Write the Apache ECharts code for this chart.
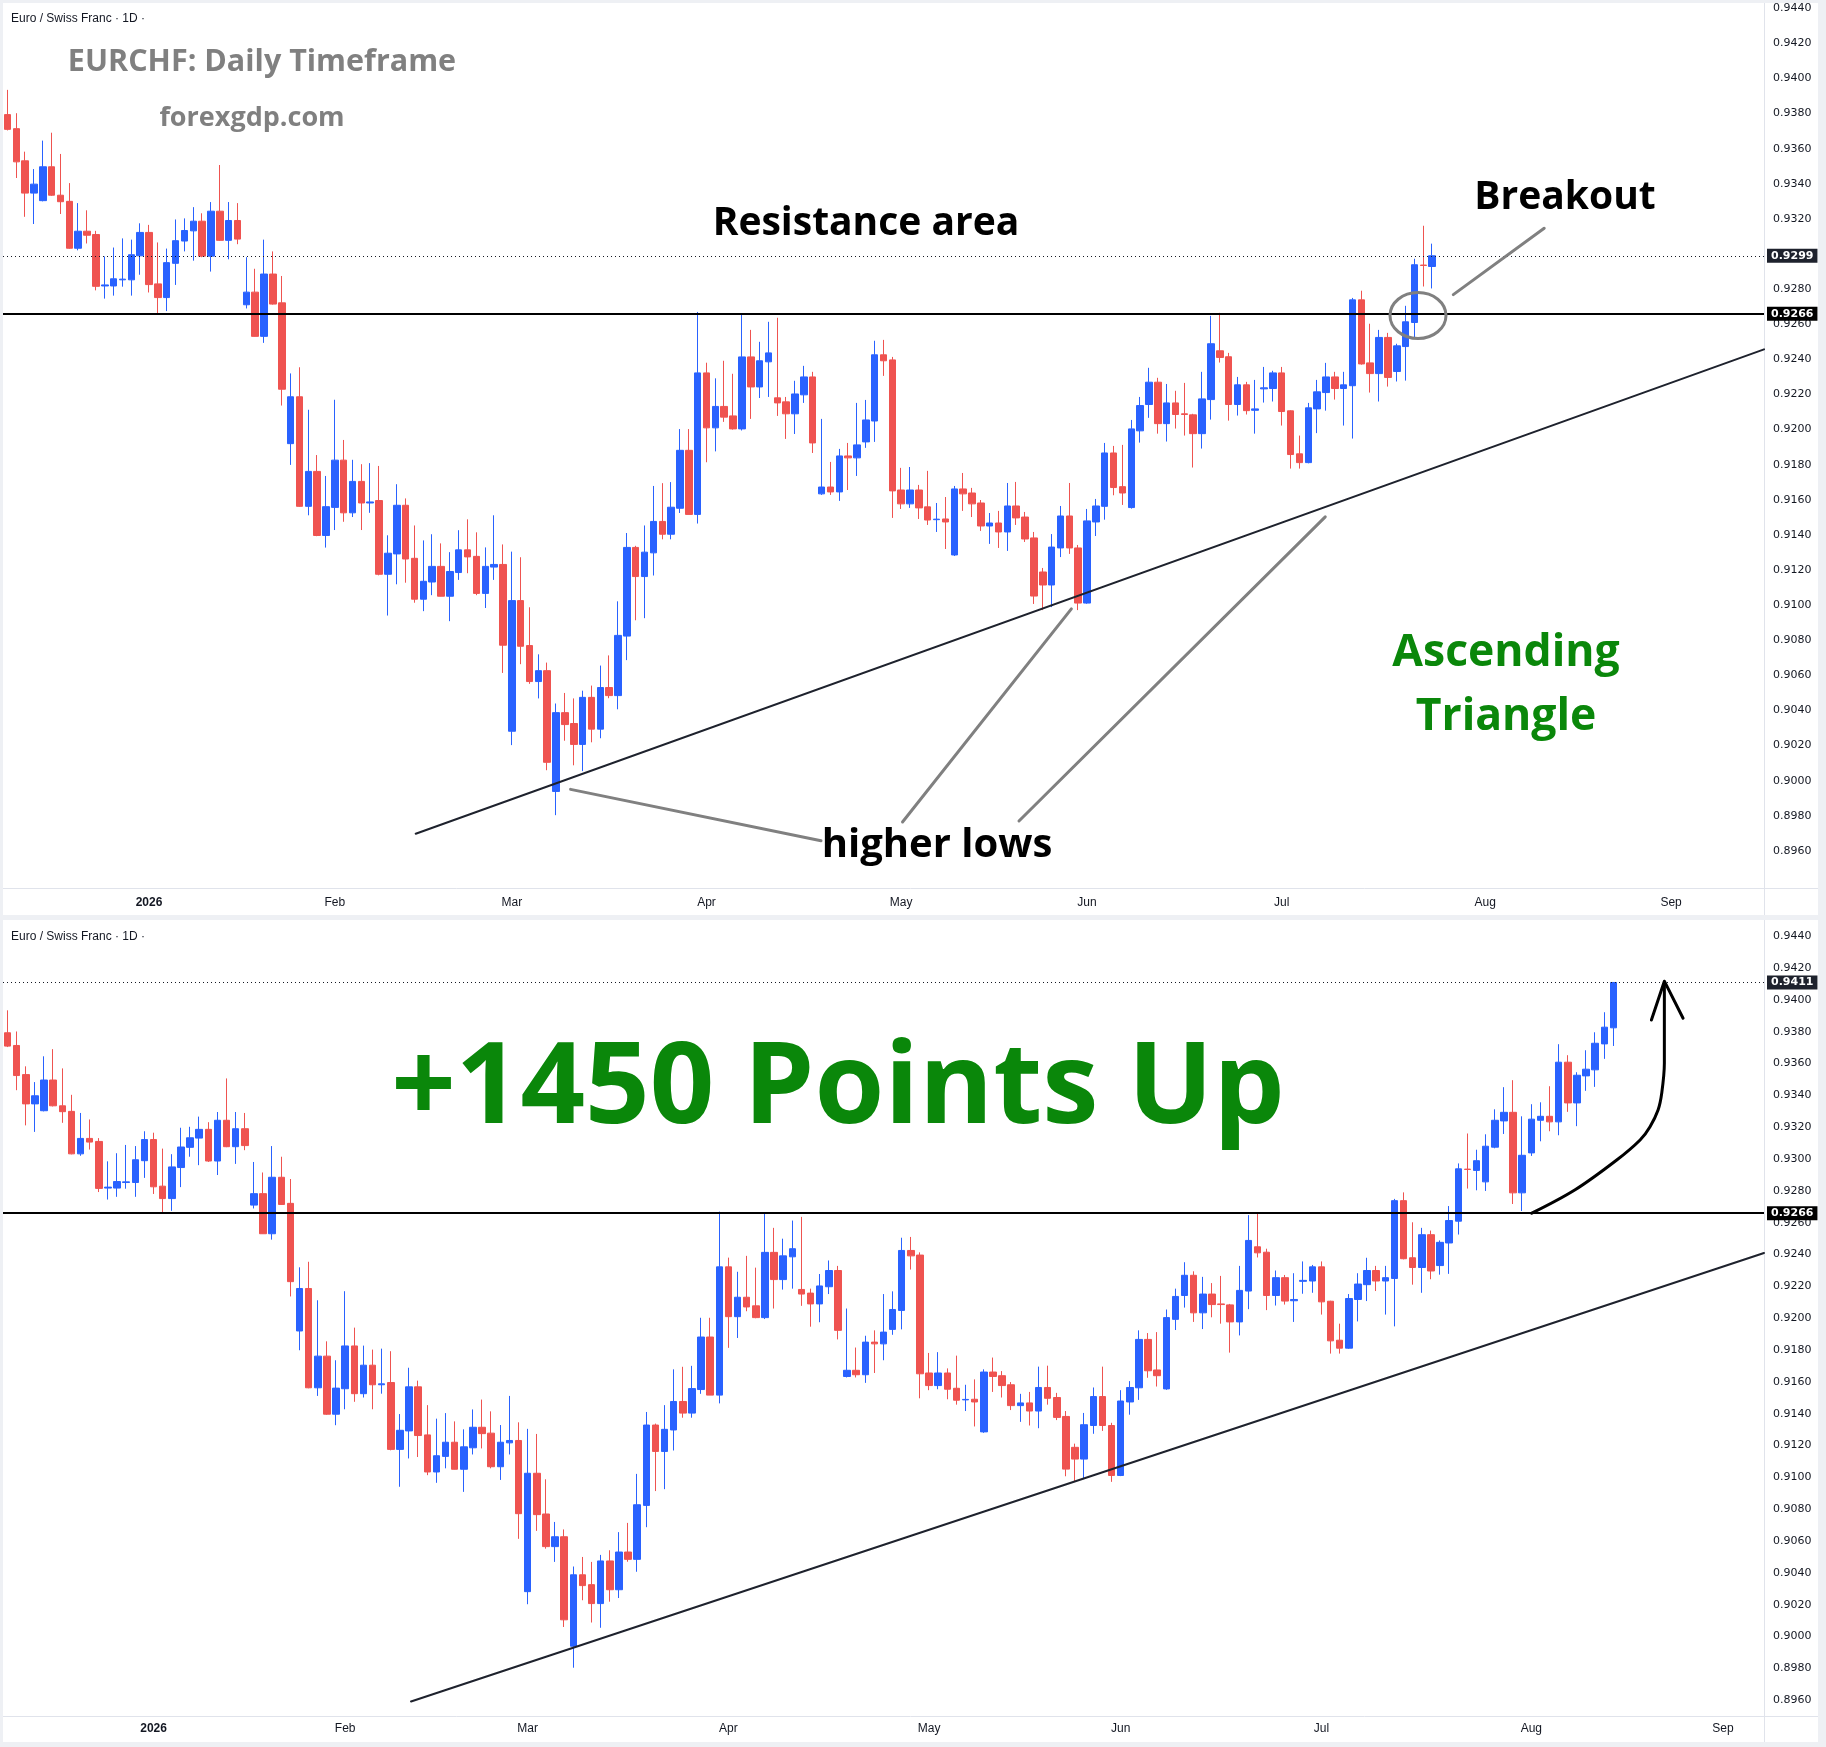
<!DOCTYPE html>
<html><head><meta charset="utf-8">
<script src="https://cdn.jsdelivr.net/npm/echarts@6.0.0/dist/echarts.min.js"></script>
<style>html,body{margin:0;padding:0;background:#fff}#c{width:1826px;height:1747px}</style>
</head><body><div id="c"></div><script>
// ---------- DATA ----------
const START_DATE = '2025-12-09';
const HOLIDAYS = ['2025-12-25', '2026-01-01'];
const TOP_SLOTS = 199;      // visible daily slots, top panel
const BOTTOM_SLOTS = 193;   // visible daily slots, bottom panel
const TOP_BARS = 162;       // candles shown on the top panel
const MONTHS = ['Jan','Feb','Mar','Apr','May','Jun','Jul','Aug','Sep','Oct','Nov','Dec'];
const RESISTANCE = 0.9266;
const LAST_TOP = 0.9299;
const LAST_BOTTOM = 0.9411;

const open = [
.93794,.93714,.93531,.93347,.93304,.93497,.93335,.93300,.93033,.93130,
.93111,.92818,.92818,.92853,.92853,.92990,.93123,.92830,.92752,.92947,
.93074,.93132,.93187,.92988,.93244,.93078,.93191,.92711,.92783,.92531,
.92886,.92722,.91920,.92187,.91563,.91762,.91397,.91557,.91826,.91526,
.91705,.91582,.91596,.91176,.91292,.91569,.91267,.91034,.91132,.91221,
.91051,.91186,.91315,.91278,.91067,.91217,.91232,.90282,.91026,.90770,
.90565,.90627,.89939,.90388,.90326,.90207,.90475,.90294,.90531,.90485,
.90824,.91329,.91163,.91298,.91477,.91404,.91552,.91882,.91517,.92323,
.92010,.92132,.92078,.92004,.92414,.92243,.92386,.92181,.92158,.92090,
.92198,.92300,.91634,.91673,.91645,.91850,.91839,.91930,.92049,.92426,
.92397,.91656,.91577,.91656,.91560,.91487,.91491,.91286,.91662,.91639,
.91582,.91451,.91468,.91417,.91565,.91502,.91383,.91189,.91115,.91326,
.91508,.91326,.91012,.91474,.91563,.91867,.91675,.91556,.91993,.92143,
.92270,.92034,.92152,.92090,.92084,.91977,.92171,.92449,.92415,.92143,
.92255,.92110,.92232,.92234,.92323,.92107,.91862,.91812,.92118,.92211,
.92300,.92234,.92250,.92739,.92380,.92319,.92525,.92331,.92473,.92610,
.92937,.92929,.92857,.93075,.93240,.93294,.92788,.93039,.93244,.93269,
.93234,.93609,.93353,.93523,.93561,.93724,.93825];
const close = [
.93710,.93525,.93347,.93398,.93497,.93335,.93298,.93033,.93130,.93107,
.92816,.92824,.92859,.92857,.92996,.93123,.92826,.92752,.92951,.93076,
.93134,.93187,.92988,.93244,.93078,.93191,.93085,.92783,.92531,.92886,
.92715,.92230,.92187,.91563,.91762,.91397,.91561,.91826,.91526,.91705,
.91582,.91588,.91176,.91296,.91569,.91263,.91034,.91136,.91221,.91051,
.91192,.91315,.91275,.91067,.91221,.91232,.90772,.91026,.90766,.90565,
.90627,.90105,.90388,.90320,.90207,.90475,.90294,.90531,.90485,.90828,
.91329,.91163,.91302,.91477,.91404,.91558,.91882,.91517,.92323,.92010,
.92132,.92071,.92004,.92414,.92243,.92392,.92437,.92152,.92090,.92203,
.92300,.91924,.91673,.91645,.91850,.91839,.91913,.92055,.92426,.92392,
.91651,.91577,.91656,.91554,.91485,.91490,.91474,.91662,.91634,.91577,
.91451,.91468,.91417,.91565,.91497,.91377,.91052,.91115,.91331,.91508,
.91326,.91012,.91480,.91565,.91867,.91670,.91639,.92004,.92137,.92270,
.92034,.92152,.92086,.92086,.91977,.92175,.92489,.92411,.92143,.92255,
.92108,.92118,.92238,.92323,.92103,.91858,.91812,.92124,.92215,.92300,
.92234,.92255,.92739,.92374,.92319,.92525,.92297,.92477,.92614,.92939,
.92935,.92990,.93081,.93244,.93294,.92788,.93024,.93251,.93269,.93234,
.93609,.93353,.93527,.93565,.93728,.93829,.94110];
const high = [
.93935,.93802,.93583,.93484,.93646,.93691,.93570,.93404,.93290,.93249,
.93132,.92986,.93037,.93089,.93082,.93175,.93166,.93066,.93031,.93197,
.93203,.93267,.93232,.93296,.93507,.93296,.93290,.92982,.92916,.93082,
.93015,.92875,.92320,.92355,.92113,.91855,.91736,.92170,.91941,.91828,
.91803,.91809,.91793,.91398,.91689,.91608,.91454,.91369,.91404,.91352,
.91302,.91427,.91489,.91415,.91329,.91512,.91346,.91305,.91273,.90988,
.90720,.90673,.90440,.90500,.90469,.90513,.90542,.90656,.90714,.91022,
.91411,.91338,.91454,.91679,.91695,.91701,.92003,.92003,.92670,.92381,
.92292,.92392,.92318,.92660,.92568,.92500,.92614,.92637,.92186,.92278,
.92363,.92329,.92061,.91816,.91890,.91924,.92152,.92169,.92506,.92511,
.92414,.91782,.91787,.91685,.91765,.91582,.91616,.91679,.91753,.91668,
.91599,.91525,.91537,.91696,.91702,.91531,.91417,.91212,.91405,.91565,
.91696,.91343,.91548,.91605,.91924,.91907,.91913,.92055,.92186,.92352,
.92295,.92260,.92221,.92266,.92090,.92329,.92648,.92665,.92437,.92300,
.92272,.92283,.92357,.92335,.92357,.92110,.91966,.92152,.92283,.92380,
.92329,.92329,.92750,.92791,.92603,.92568,.92551,.92489,.92705,.92973,
.93161,.93059,.93156,.93313,.93452,.93496,.93269,.93345,.93357,.93458,
.93722,.93653,.93546,.93684,.93797,.93923,.94110];
const low = [
.93704,.93433,.93212,.93171,.93300,.93331,.93228,.93030,.93021,.93060,
.92793,.92746,.92763,.92814,.92763,.92882,.92781,.92664,.92675,.92824,
.93015,.92962,.92982,.92900,.93075,.92970,.93056,.92690,.92530,.92494,
.92712,.92137,.91799,.91560,.91512,.91393,.91328,.91428,.91475,.91502,
.91428,.91526,.91170,.90941,.91119,.91128,.91014,.90966,.91057,.91050,
.90909,.91144,.91182,.91057,.90984,.91144,.90614,.90203,.90664,.90552,
.90469,.90060,.89804,.90228,.90088,.90055,.90219,.90242,.90470,.90407,
.90687,.90914,.90926,.91169,.91375,.91375,.91525,.91517,.91465,.91814,
.91876,.92044,.92000,.91995,.92061,.92180,.92186,.92078,.91947,.91975,
.92152,.91867,.91628,.91628,.91594,.91656,.91736,.91896,.91930,.92306,
.91497,.91548,.91554,.91491,.91457,.91417,.91320,.91280,.91537,.91502,
.91423,.91349,.91326,.91309,.91457,.91360,.91007,.90972,.90989,.91274,
.91292,.90972,.91008,.91394,.91487,.91626,.91571,.91550,.91926,.92067,
.91977,.91932,.92006,.91966,.91784,.91892,.92057,.92382,.92051,.92080,
.92086,.91977,.92154,.92160,.92023,.91778,.91778,.91808,.91980,.92108,
.92171,.92023,.91949,.92370,.92211,.92160,.92245,.92274,.92279,.92526,
.92815,.92804,.92800,.93068,.93158,.92718,.92674,.93020,.93112,.93175,
.93150,.93297,.93207,.93429,.93454,.93630,.93711];

// drawing annotations, in data coordinates [bar index, price]
const topTrend = [[46.14, 0.89698], [198.5, 0.92457]];
const lowPointers = [
  [[63.64, 0.89951], [91.94, 0.89658]],
  [[101.15, 0.89765], [120.23, 0.90979]],
  [[114.31, 0.89771], [148.92, 0.91503]]];
const breakoutPointer = [[163.39, 0.92769], [173.66, 0.93147]];
const breakoutCircleCenter = [159.4, 0.9265];
const botTrend = [[44.22, 0.89592], [192.5, 0.9241]];
const arrowCurve = [[167.05,0.9266],[171.8,0.92807],[176.36,0.92994],[178.92,0.9312],[180.01,0.93204],
  [180.89,0.93309],[181.29,0.93414],[181.58,0.93602],[181.58,0.94105]];
const arrowHead = [[180.16,0.93874],[181.58,0.94118],[183.63,0.93885]];

// ---------- BUILD ----------
function tradingDays(start, n, holidays) {
  const out = []; const d = new Date(start + 'T00:00:00Z');
  while (out.length < n) {
    const wd = d.getUTCDay(); const s = d.toISOString().slice(0, 10);
    if (wd !== 0 && wd !== 6 && holidays.indexOf(s) < 0) out.push(s);
    d.setUTCDate(d.getUTCDate() + 1);
  }
  return out;
}
const dates = tradingDays(START_DATE, TOP_SLOTS, HOLIDAYS);
const botDates = dates.slice(0, BOTTOM_SLOTS);
const ohlc = open.map((o, i) => [o, close[i], low[i], high[i]]);
const topData = ohlc.slice(0, TOP_BARS);
const botData = ohlc;

const UP = '#2962ff', DOWN = '#ef5350';
const AXIS_FONT = 'DejaVu Sans';
const TEXT_FONT = 'Open Sans';

function monthStart(list) { return (i) => i > 0 && list[i].slice(5, 7) !== list[i - 1].slice(5, 7); }
function monthLabel(v) { const m = +v.slice(5, 7); return m === 1 ? '{y|' + v.slice(0, 4) + '}' : MONTHS[m - 1]; }
function priceFmt(v) { const k = Math.round(v * 10000); if (k < 8960 || k > 9440 || k % 20 !== 0) return ''; return (k / 10000).toFixed(4); }

function catAxis(gi, data, margin) {
  return { type: 'category', gridIndex: gi, data: data, boundaryGap: true,
    axisLine: { show: false }, axisTick: { show: false }, splitLine: { show: false },
    axisLabel: { interval: monthStart(data), formatter: monthLabel, margin: margin,
      color: '#131722', fontSize: 12, fontFamily: 'Liberation Sans Narrow, Liberation Sans, sans-serif',
      rich: { y: { fontWeight: 'bold', fontSize: 12, color: '#131722', fontFamily: 'Liberation Sans Narrow, Liberation Sans, sans-serif' } } } };
}
function valAxis(gi, n) { return { type: 'value', gridIndex: gi, min: -0.5, max: n - 0.5, show: false }; }
function priceAxis(gi, min, max, interval) {
  return { type: 'value', gridIndex: gi, position: 'right', min: min, max: max, interval: interval,
    axisLine: { show: false }, axisTick: { show: false }, splitLine: { show: false },
    axisLabel: { formatter: priceFmt, margin: 9, color: '#131722', fontSize: 11, fontFamily: AXIS_FONT } };
}
function priceLine(value, style, bg) {
  return { yAxis: value, lineStyle: style,
    label: { show: true, position: 'end', distance: 3, formatter: value.toFixed(4), backgroundColor: bg,
      color: '#fff', fontSize: 11, fontWeight: 'bold', fontFamily: AXIS_FONT, padding: [2, 4, 1, 4] } };
}
function candle(xi, yi, data, lastValue) {
  return { type: 'candlestick', xAxisIndex: xi, yAxisIndex: yi, data: data, barWidth: 7,
    itemStyle: { color: UP, color0: DOWN, borderColor: UP, borderColor0: DOWN, borderWidth: 1 },
    markLine: { silent: true, symbol: 'none', animation: false, precision: 4, data: [
      priceLine(lastValue, { color: '#131722', width: 1, type: [1, 3] }, '#1e222d'),
      priceLine(RESISTANCE, { color: '#000', width: 2, type: 'solid' }, '#000') ] } };
}
function lineS(xi, yi, pts, color, width, smooth) {
  return { type: 'line', xAxisIndex: xi, yAxisIndex: yi, data: pts, showSymbol: false, symbol: 'none',
    smooth: smooth || false, silent: true, z: 5, lineStyle: { color: color, width: width, cap: 'round', join: 'round' } };
}

const series = [
  candle(0, 0, topData, LAST_TOP),
  candle(1, 1, botData, LAST_BOTTOM),
  lineS(2, 0, topTrend, '#1e222d', 2),
  lineS(2, 0, lowPointers[0], '#808080', 3),
  lineS(2, 0, lowPointers[1], '#808080', 3),
  lineS(2, 0, lowPointers[2], '#808080', 3),
  lineS(2, 0, breakoutPointer, '#808080', 3),
  lineS(3, 1, botTrend, '#1e222d', 2),
  lineS(3, 1, arrowCurve, '#000', 3, 0.35),
  lineS(3, 1, arrowHead, '#000', 3)
];

function txt(text, x, y, size, color, weight, align, family) {
  return { type: 'text', x: x, y: y, z: 100,
    style: { text: text, fill: color, font: (weight || 'bold') + ' ' + size + 'px "' + (family || TEXT_FONT) + '"',
      align: align || 'center', verticalAlign: 'middle' } };
}
const SEP = '#e0e3eb';
const graphics = [
  { type: 'rect', z: -10, shape: { x: 0, y: 0, width: 1826, height: 1747 }, style: { fill: '#eef0f4' } },
  { type: 'rect', z: -9, shape: { x: 3, y: 3, width: 1815, height: 912 }, style: { fill: '#fff' } },
  { type: 'rect', z: -9, shape: { x: 3, y: 920, width: 1815, height: 822 }, style: { fill: '#fff' } },
  { type: 'line', z: -8, shape: { x1: 3, y1: 888.5, x2: 1818, y2: 888.5 }, style: { stroke: SEP, lineWidth: 1 } },
  { type: 'line', z: -8, shape: { x1: 1764.5, y1: 3, x2: 1764.5, y2: 915 }, style: { stroke: SEP, lineWidth: 1 } },
  { type: 'line', z: -8, shape: { x1: 3, y1: 1716.5, x2: 1818, y2: 1716.5 }, style: { stroke: SEP, lineWidth: 1 } },
  { type: 'line', z: -8, shape: { x1: 1764.5, y1: 920, x2: 1764.5, y2: 1742 }, style: { stroke: SEP, lineWidth: 1 } },
  txt('Euro / Swiss Franc · 1D ·', 11, 19, 12, '#131722', 'normal', 'left', 'Liberation Sans'),
  txt('Euro / Swiss Franc · 1D ·', 11, 937, 12, '#131722', 'normal', 'left', 'Liberation Sans'),
  txt('EURCHF: Daily Timeframe', 262, 62, 30.5, '#808080'),
  txt('forexgdp.com', 252, 118, 27, '#808080'),
  txt('Resistance area', 866, 224, 39, '#000'),
  txt('Breakout', 1565, 198, 39, '#000'),
  txt('higher lows', 937, 846, 40, '#000'),
  txt('Ascending', 1506, 653, 44.5, '#0a870a'),
  txt('Triangle', 1506, 717, 44.5, '#0a870a'),
  txt('+1450 Points Up', 838, 1091, 113, '#0a870a')
];

const option = {
  animation: false,
  backgroundColor: '#ffffff',
  grid: [
    { left: 3, top: 1.2, width: 1761, height: 884.9, outerBoundsMode: 'none', containLabel: false },
    { left: 3, top: 920.4, width: 1761, height: 795.7, outerBoundsMode: 'none', containLabel: false }
  ],
  xAxis: [ catAxis(0, dates, 11), catAxis(1, botDates, 7), valAxis(0, TOP_SLOTS), valAxis(1, BOTTOM_SLOTS) ],
  yAxis: [ priceAxis(0, 0.8940, 0.9444, 0.002), priceAxis(1, 0.8950, 0.9450, 0.001) ],
  series: series,
  graphic: graphics
};

const chart = echarts.init(document.getElementById('c'), null, { renderer: 'canvas', width: 1826, height: 1747 });
chart.setOption(option);
const c = chart.convertToPixel({ seriesIndex: 2 }, breakoutCircleCenter);
graphics.push({ type: 'ellipse', z: 50, shape: { cx: c[0], cy: c[1], rx: 28, ry: 23 },
  style: { fill: 'none', stroke: '#808080', lineWidth: 3 } });
chart.setOption({ graphic: graphics });
</script></body></html>
